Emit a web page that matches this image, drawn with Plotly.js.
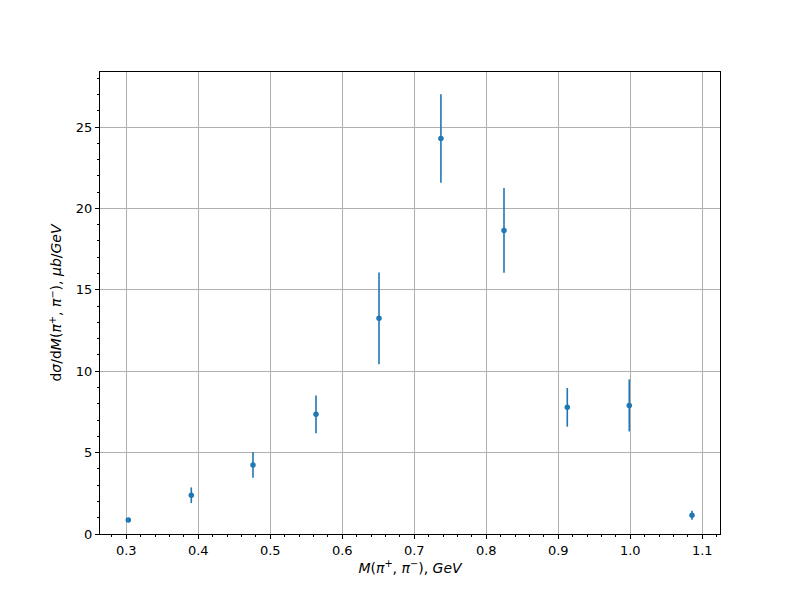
<!DOCTYPE html>
<html>
<head>
<meta charset="utf-8">
<script src="https://cdn.plot.ly/plotly-3.0.1.min.js"></script>
<style>html,body{margin:0;padding:0;background:#fff;}</style>
</head>
<body>
<div id="chart" style="width:800px;height:600px;"></div>
<script>
const massGeV = [0.3028, 0.3903, 0.476, 0.5635, 0.651, 0.737, 0.8246, 0.9125, 0.9986, 1.0857];
const dsigma = [0.86, 2.38, 4.24, 7.35, 13.25, 24.3, 18.65, 7.78, 7.9, 1.15];
const dsigmaErr = [0.1, 0.48, 0.79, 1.16, 2.82, 2.72, 2.6, 1.19, 1.6, 0.28];

const font = {family: 'DejaVu Sans, sans-serif', size: 13, color: '#000'};
const titleFont = {family: 'DejaVu Sans, sans-serif', size: 14, color: '#000'};

const trace = {
  x: massGeV,
  y: dsigma,
  type: 'scatter',
  mode: 'markers',
  marker: {color: '#1f77b4', size: 5.5},
  error_y: {type: 'data', array: dsigmaErr, visible: true, color: '#1f77b4', thickness: 1.6, width: 0},
  hoverinfo: 'x+y'
};

const axisCommon = {
  showline: true, mirror: true, linecolor: '#000', linewidth: 1,
  ticks: 'outside', ticklen: 4, tickwidth: 1, tickcolor: '#000',
  showgrid: true, gridcolor: '#b0b0b0', gridwidth: 1,
  zeroline: false, tickfont: font
};

const layout = {
  width: 800, height: 600,
  margin: {l: 100, r: 80, t: 72, b: 66},
  paper_bgcolor: '#fff', plot_bgcolor: '#fff',
  showlegend: false,
  font: font,
  xaxis: Object.assign({}, axisCommon, {
    range: [0.2635, 1.1246],
    tickmode: 'linear', tick0: 0.3, dtick: 0.1, tickformat: '.1f',
    minor: {ticks: 'outside', ticklen: 2, tickcolor: '#000', dtick: 0.02, tick0: 0.3, showgrid: false},
    title: {text: '<i>M</i>(<i>π</i><sup>+</sup>, <i>π</i><sup>−</sup>), <i>GeV</i>', font: titleFont, standoff: 6}
  }),
  yaxis: Object.assign({}, axisCommon, {
    range: [0, 28.38],
    tickmode: 'linear', tick0: 0, dtick: 5,
    minor: {ticks: 'outside', ticklen: 2, tickcolor: '#000', dtick: 1, tick0: 0, showgrid: false},
    title: {text: 'd<i>σ</i>/d<i>M</i>(<i>π</i><sup>+</sup>, <i>π</i><sup>−</sup>), <i>μb</i>/<i>GeV</i>', font: titleFont, standoff: 10}
  })
};

Plotly.newPlot('chart', [trace], layout, {displayModeBar: false, staticPlot: true});
</script>
</body>
</html>
